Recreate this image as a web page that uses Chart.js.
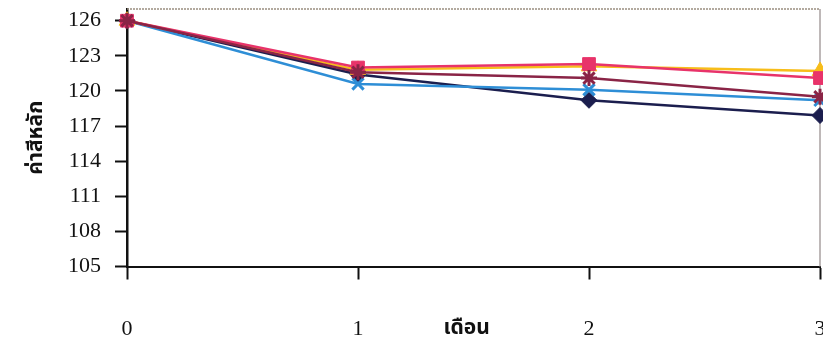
<!DOCTYPE html>
<html>
<head>
<meta charset="utf-8">
<script src="https://cdn.jsdelivr.net/npm/chart.js@4/dist/chart.umd.min.js"></script>
<style>
  html, body { margin: 0; padding: 0; background: #ffffff; }
  #wrap { width: 823px; height: 352px; position: relative; }
</style>
</head>
<body>
<div id="wrap"><canvas id="c" width="823" height="352"></canvas></div>
<script>
const months = [0, 1, 2, 3];
const yTicks = [105, 108, 111, 114, 117, 120, 123, 126];
const seriesNavy   = [126, 121.4, 119.2, 117.9];
const seriesPink   = [126, 122.0, 122.3, 121.1];
const seriesYellow = [126, 121.8, 122.1, 121.7];
const seriesBlue   = [126, 120.6, 120.1, 119.2];
const seriesMaroon = [126, 121.6, 121.1, 119.5];
const yTitle = 'ค่าสีหลัก';
const xTitle = 'เดือน';

const thaiFont = "'Noto Sans Thai', 'Loma', 'Garuda', 'Norasi', 'DejaVu Sans', sans-serif";
const serifFont = "'Liberation Serif', 'Times New Roman', serif";

function pts(arr) { return arr.map((v, i) => ({ x: months[i], y: v })); }

function ds(label, arr, color, style, radius, order) {
  return {
    label, data: pts(arr),
    borderColor: color, backgroundColor: color,
    pointBackgroundColor: color, pointBorderColor: color,
    pointStyle: style, pointRadius: radius, pointBorderWidth: style === 'crossRot' || style === 'star' ? 3 : 1,
    borderWidth: 2.5, tension: 0, order, clip: false
  };
}

const framePlugin = {
  id: 'frame',
  beforeDatasetsDraw(chart) {
    const { ctx, chartArea: a } = chart;
    ctx.save();
    ctx.strokeStyle = '#9a8f80';
    ctx.lineWidth = 1.5;
    ctx.setLineDash([2, 1]);
    ctx.beginPath();
    ctx.moveTo(a.left, a.top); ctx.lineTo(a.right, a.top);
    ctx.stroke();
    ctx.setLineDash([]);
    ctx.strokeStyle = '#a8a0a0';
    ctx.beginPath();
    ctx.moveTo(a.right, a.top); ctx.lineTo(a.right, a.bottom);
    ctx.stroke();
    ctx.restore();
  },
  afterDraw(chart) {
    const { ctx } = chart;
    const xs = chart.scales.x;
    ctx.save();
    ctx.fillStyle = '#111';
    ctx.font = "bold 21px " + thaiFont;
    ctx.textAlign = 'center';
    ctx.textBaseline = 'middle';
    ctx.fillText(xTitle, xs.getPixelForValue(1.47), 330);
    ctx.restore();
  }
};

new Chart(document.getElementById('c'), {
  type: 'line',
  data: {
    datasets: [
      ds('navy', seriesNavy, '#1b1e4e', 'rectRot', 8, 5),
      ds('blue', seriesBlue, '#2e8ed6', 'crossRot', 8, 4),
      ds('yellow', seriesYellow, '#f7bd1a', 'triangle', 9, 3),
      ds('pink', seriesPink, '#e8336a', 'rect', 9, 2),
      ds('maroon', seriesMaroon, '#8a2446', 'star', 8, 1)
    ]
  },
  options: {
    responsive: false,
    animation: false,
    devicePixelRatio: 1,
    layout: { autoPadding: false, padding: { top: 9, right: 3, left: 0, bottom: 0 } },
    plugins: { legend: { display: false }, tooltip: { enabled: false } },
    scales: {
      x: {
        type: 'linear', min: 0, max: 3,
        afterBuildTicks(s) { s.ticks = months.map(v => ({ value: v })); },
        afterFit(s) { s.height = 352 - 9 - 257.5; s.paddingLeft = 0; s.paddingRight = 0; },
        grid: { drawOnChartArea: false, drawTicks: true, tickLength: 13, color: '#111', tickWidth: 2 },
        border: { color: '#111', width: 2 },
        ticks: { color: '#111', font: { family: serifFont, size: 22 }, padding: 37, maxRotation: 0 }
      },
      y: {
        min: 105, max: 127,
        afterBuildTicks(s) { s.ticks = yTicks.map(v => ({ value: v })); },
        afterFit(s) { s.width = 127; s.paddingTop = 0; s.paddingBottom = 0; },
        grid: { drawOnChartArea: false, drawTicks: true, tickLength: 12, color: '#111', tickWidth: 2 },
        border: { color: '#111', width: 2.5 },
        ticks: { color: '#111', font: { family: serifFont, size: 22 }, padding: 14 },
        title: { display: true, text: yTitle, color: '#111', font: { family: thaiFont, size: 21, weight: 'bold' }, padding: { top: 25, bottom: 0 } }
      }
    }
  },
  plugins: [framePlugin]
});
</script>
</body>
</html>
